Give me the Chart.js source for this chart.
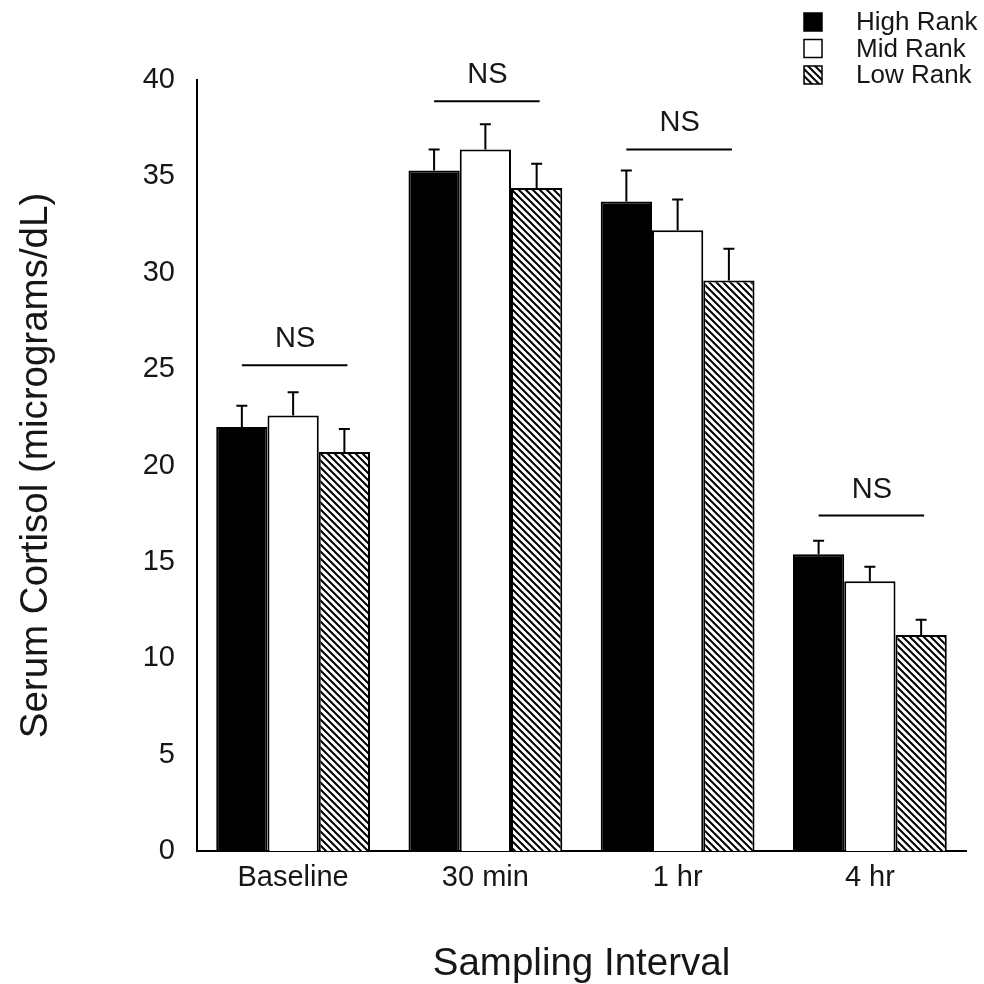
<!DOCTYPE html>
<html>
<head>
<meta charset="utf-8">
<script src="https://cdn.jsdelivr.net/npm/chart.js@4.4.0/dist/chart.umd.min.js"></script>
<style>
  html, body { margin: 0; padding: 0; background: #ffffff; }
  #c { display: block; }
</style>
</head>
<body>
<canvas id="c" width="984" height="984"></canvas>
<script>
// ---- data ----
const categories = ['Baseline', '30 min', '1 hr', '4 hr'];
const seriesNames = ['High Rank', 'Mid Rank', 'Low Rank'];
const highRank = [22.0, 35.3, 33.7, 15.4];
const midRank  = [22.6, 36.4, 32.2, 14.0];
const lowRank  = [20.7, 34.4, 29.6, 11.2];
const highErr  = [1.1, 1.1, 1.6, 0.7];
const midErr   = [1.2, 1.3, 1.6, 0.75];
const lowErr   = [1.2, 1.25, 1.65, 0.8];
const nsLevels = [25.2, 38.9, 36.4, 17.4];
const nsLabels = ['NS', 'NS', 'NS', 'NS'];
const yTicks   = [0, 5, 10, 15, 20, 25, 30, 35, 40];

const FONT = '"Liberation Sans", Arial, Helvetica, sans-serif';
const TEXT = '#161616';

// hatch pattern (diagonal "\" lines)
function makeHatch() {
  const s = 7;
  const p = document.createElement('canvas');
  p.width = s; p.height = s;
  const g = p.getContext('2d');
  g.fillStyle = '#ffffff';
  g.fillRect(0, 0, s, s);
  g.strokeStyle = '#000000';
  g.lineWidth = 2;
  g.beginPath();
  g.moveTo(-1, -1); g.lineTo(s + 1, s + 1);
  g.moveTo(-2, s - 2); g.lineTo(2, s + 2);
  g.moveTo(s - 2, -2); g.lineTo(s + 2, 2);
  g.stroke();
  return g.createPattern(p, 'repeat');
}
const ctx = document.getElementById('c').getContext('2d');
const hatch = makeHatch();

const errorBars = {
  id: 'errorBars',
  afterDatasetsDraw(chart) {
    const c = chart.ctx;
    const ys = chart.scales.y;
    c.save();
    c.strokeStyle = '#000';
    c.lineWidth = 2;
    chart.data.datasets.forEach((ds, i) => {
      const meta = chart.getDatasetMeta(i);
      meta.data.forEach((bar, j) => {
        const v = ds.data[j];
        const top = ys.getPixelForValue(v + ds.err[j]);
        c.beginPath();
        c.moveTo(bar.x, bar.y);
        c.lineTo(bar.x, top);
        c.moveTo(bar.x - 5.5, top);
        c.lineTo(bar.x + 5.5, top);
        c.stroke();
      });
    });
    c.restore();
  }
};

const nsMarks = {
  id: 'nsMarks',
  afterDatasetsDraw(chart) {
    const c = chart.ctx;
    const ys = chart.scales.y;
    const first = chart.getDatasetMeta(0).data;
    const last = chart.getDatasetMeta(chart.data.datasets.length - 1).data;
    c.save();
    c.strokeStyle = '#000';
    c.lineWidth = 2;
    c.fillStyle = TEXT;
    c.font = '29px ' + FONT;
    c.textAlign = 'center';
    c.textBaseline = 'middle';
    nsLevels.forEach((lv, j) => {
      const y = ys.getPixelForValue(lv);
      const x0 = first[j].x, x1 = last[j].x;
      c.beginPath();
      c.moveTo(x0, y);
      c.lineTo(x1 + 3, y);
      c.stroke();
      c.fillText(nsLabels[j], (x0 + x1) / 2 + 2, y - 26);
    });
    c.restore();
  }
};

const customLegend = {
  id: 'customLegend',
  afterDraw(chart) {
    const c = chart.ctx;
    c.save();
    c.font = '26px ' + FONT;
    c.textAlign = 'left';
    c.textBaseline = 'middle';
    chart.data.datasets.forEach((ds, i) => {
      const cy = 22 + i * 26.5;
      const sz = 18;
      c.fillStyle = ds.backgroundColor;
      c.fillRect(804, cy - sz / 2, sz, sz);
      c.strokeStyle = '#000';
      c.lineWidth = 1.5;
      c.strokeRect(804, cy - sz / 2, sz, sz);
      c.fillStyle = TEXT;
      c.fillText(ds.label, 856, cy + 1);
    });
    c.restore();
  }
};

new Chart(ctx, {
  type: 'bar',
  data: {
    labels: categories,
    datasets: [
      { label: seriesNames[0], data: highRank, err: highErr, backgroundColor: '#000000', borderColor: '#000000', borderWidth: 2 },
      { label: seriesNames[1], data: midRank,  err: midErr,  backgroundColor: '#ffffff', borderColor: '#000000', borderWidth: 2 },
      { label: seriesNames[2], data: lowRank,  err: lowErr,  backgroundColor: hatch,     borderColor: '#000000', borderWidth: 2 }
    ]
  },
  options: {
    responsive: false,
    devicePixelRatio: 1,
    animation: false,
    layout: { padding: { top: 80, right: 18, left: 0, bottom: 0 } },
    datasets: { bar: { categoryPercentage: 0.8, barPercentage: 1.0 } },
    plugins: { legend: { display: false }, tooltip: { enabled: false } },
    scales: {
      x: {
        grid: { display: false, drawTicks: false },
        border: { display: true, color: '#000', width: 2 },
        ticks: { color: TEXT, font: { family: FONT, size: 29 }, padding: 10, maxRotation: 0 },
        title: { display: true, text: 'Sampling Interval', color: TEXT, font: { family: FONT, size: 38.5, lineHeight: 1 }, padding: 0 },
        afterFit(s) { s.height = 133; }
      },
      y: {
        min: 0, max: 40,
        afterBuildTicks(s) { s.ticks = yTicks.map(v => ({ value: v })); },
        grid: { display: false, drawTicks: false },
        border: { display: true, color: '#000', width: 2 },
        ticks: { color: TEXT, font: { family: FONT, size: 29 }, padding: 22 },
        title: { display: true, text: 'Serum Cortisol (micrograms/dL)', color: TEXT, font: { family: FONT, size: 38.5, lineHeight: 1 }, padding: { top: 17, bottom: 0 } },
        afterFit(s) { s.width = 197; }
      }
    }
  },
  plugins: [errorBars, nsMarks, customLegend]
});
</script>
</body>
</html>
